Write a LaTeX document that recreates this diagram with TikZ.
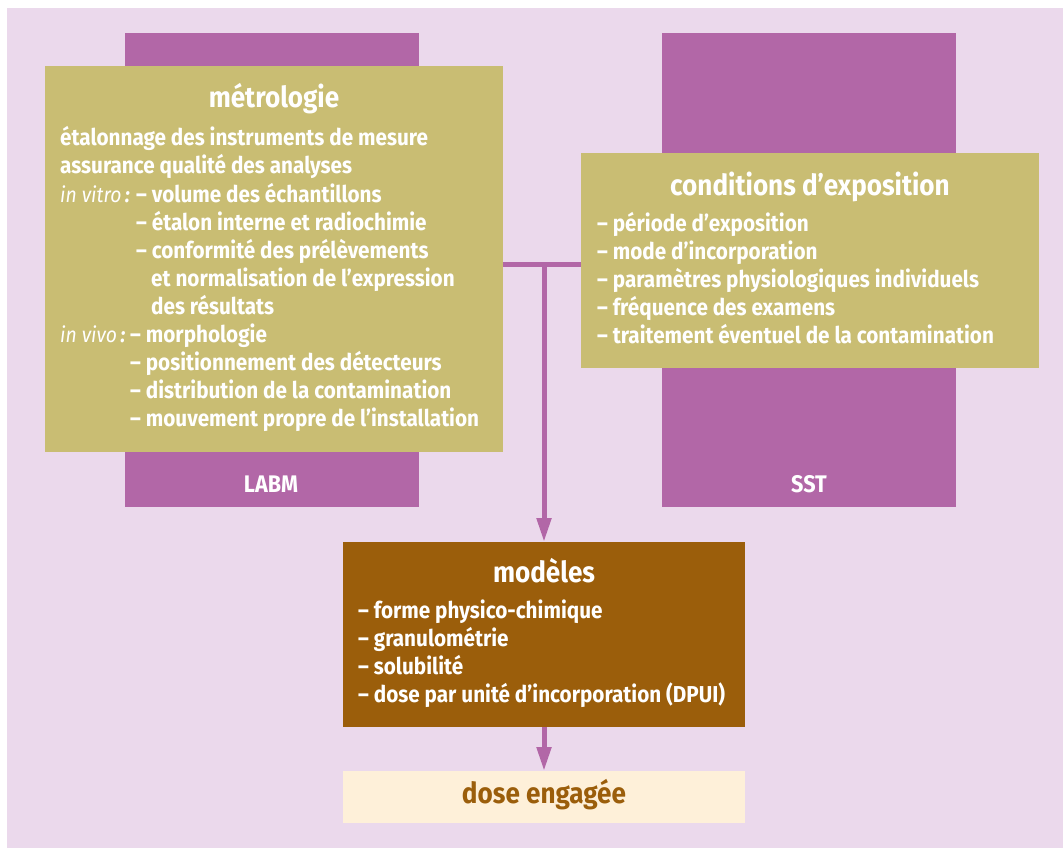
\documentclass[tikz,border=0pt]{standalone}
\usepackage{fontspec}
\setmainfont{Fira Sans}[FakeStretch=0.9]
\usetikzlibrary{arrows.meta}
\definecolor{bgpink}{HTML}{EBD9EC}
\definecolor{purp}{HTML}{B267A7}
\definecolor{olive}{HTML}{C9BD73}
\definecolor{brownbox}{HTML}{9B5E0B}
\definecolor{cream}{HTML}{FEF0D9}
\begin{document}
\begin{tikzpicture}[x=1pt,y=-1pt,
  box/.style={draw=none, inner sep=0pt, outer sep=0pt, anchor=north west},
  txt/.style={anchor=base west, inner sep=0pt, text=white, font=\fontsize{23}{23}\selectfont\bfseries},
  itx/.style={anchor=base west, inner sep=0pt, text=white, font=\fontsize{21.5}{21.5}\selectfont\itshape},
  ttl/.style={anchor=base, inner sep=0pt, text=white, font=\fontsize{29}{29}\selectfont\bfseries},
  lbl/.style={anchor=base, inner sep=0pt, text=white, font=\fontsize{24}{24}\selectfont\bfseries},
  conn/.style={draw=purp, line width=5pt}]
\useasboundingbox (0,0) rectangle (1063,848);
\fill[bgpink] (7,8) rectangle (1063,848);
% boxes
\node[box, fill=purp, minimum width=294, minimum height=474] (labm) at (125,33) {};
\node[box, fill=olive, minimum width=458, minimum height=386] (metro) at (45,66) {};
\node[box, fill=purp, minimum width=294, minimum height=474] (sst) at (662,33) {};
\node[box, fill=olive, minimum width=458, minimum height=215] (cond) at (581,153) {};
\node[box, fill=brownbox, minimum width=402, minimum height=185] (mod) at (343,542) {};
\node[box, fill=cream, minimum width=402, minimum height=52] (dose) at (343,771) {};
% connectors
\coordinate (j) at (544,264);
\draw[conn] (metro.east |- j) -- (cond.west |- j);
\draw[conn, -{Triangle[length=24pt,width=14pt]}] (j) -- (mod.north);
\draw[conn, -{Triangle[length=24pt,width=14pt]}] (mod.south) -- (dose.north);
% labels
\node[lbl] (labml) at (271,492) {LABM};
\node[lbl] (sstl) at (809,492) {SST};
% metrologie
\node[ttl] (mt) at (274,108) {métrologie};
\node[txt] (m1) at (60,146) {étalonnage des instruments de mesure};
\node[txt] (m2) at (60,174) {assurance qualité des analyses};
\node[itx] (m3a) at (60,202) {in vitro\,\textbf{:}};
\node[txt] (m3) at (136,202) {– volume des échantillons};
\node[txt] (m4) at (136,230) {– étalon interne et radiochimie};
\node[txt] (m5) at (136,258) {– conformité des prélèvements};
\node[txt] (m6) at (151,286) {et normalisation de l’expression};
\node[txt] (m7) at (151,314) {des résultats};
\node[itx] (m8a) at (60,342) {in vivo\,\textbf{:}};
\node[txt] (m8) at (130,342) {– morphologie};
\node[txt] (m9) at (130,370) {– positionnement des détecteurs};
\node[txt] (m10) at (130,398) {– distribution de la contamination};
\node[txt] (m11) at (130,426) {– mouvement propre de l’installation};
% conditions
\node[ttl] (ct) at (810,195) {conditions d’exposition};
\node[txt] (c1) at (597,231) {– période d’exposition};
\node[txt] (c2) at (597,259) {– mode d’incorporation};
\node[txt] (c3) at (597,287) {– paramètres physiologiques individuels};
\node[txt] (c4) at (597,315) {– fréquence des examens};
\node[txt] (c5) at (597,343) {– traitement éventuel de la contamination};
% modeles
\node[ttl] (mdt) at (544,582) {modèles};
\node[txt] (d1) at (358,618) {– forme physico-chimique};
\node[txt] (d2) at (358,646) {– granulométrie};
\node[txt] (d3) at (358,674) {– solubilité};
\node[txt] (d4) at (358,702) {– dose par unité d’incorporation (DPUI)};
% dose
\node[ttl, text=brownbox] (dt) at (544,803) {dose engagée};
\end{tikzpicture}
\end{document}
